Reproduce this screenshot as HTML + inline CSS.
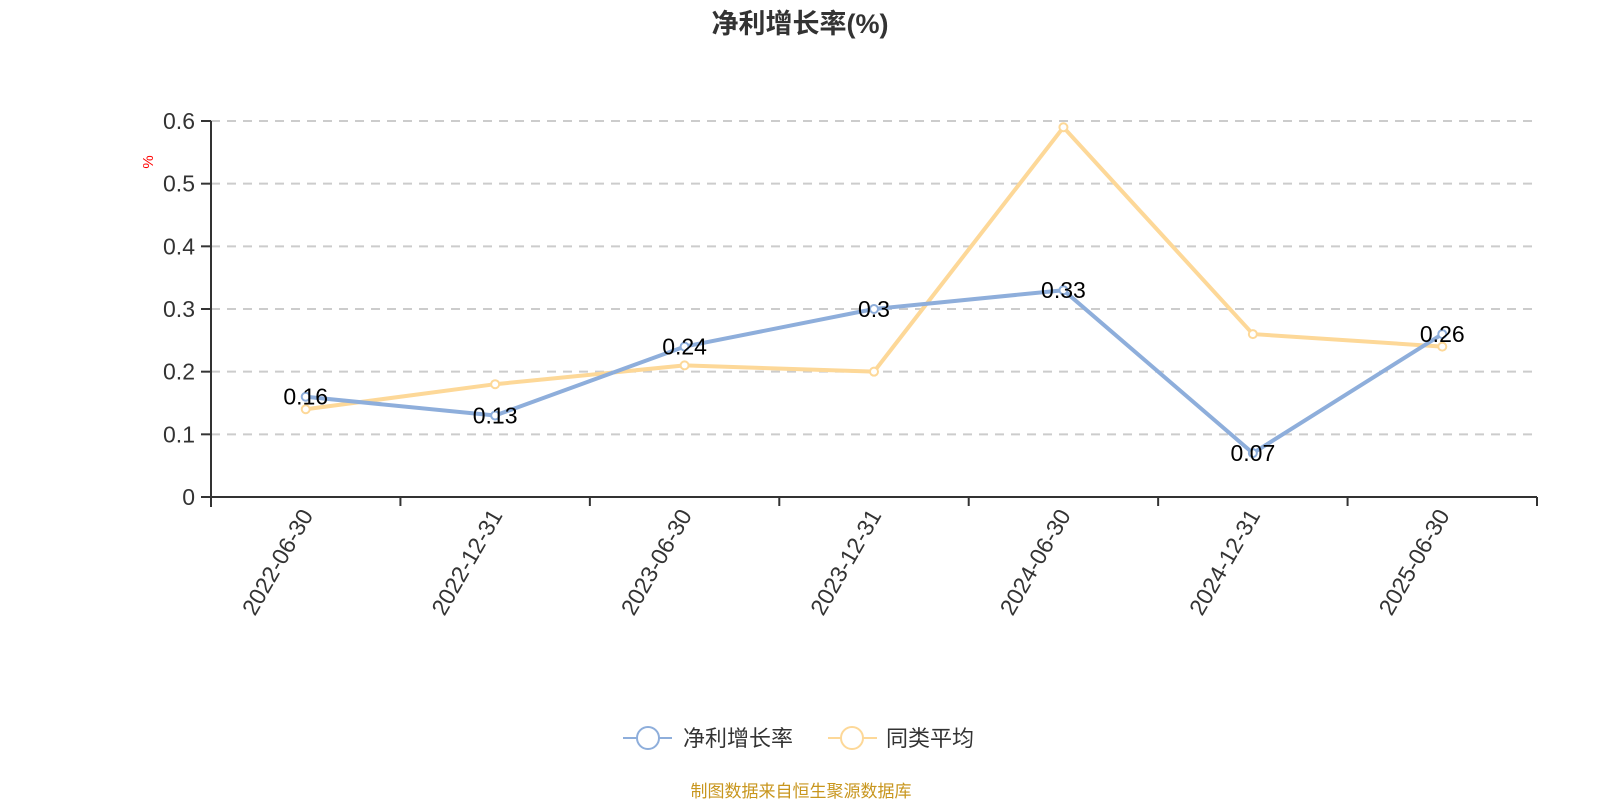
<!DOCTYPE html>
<html><head><meta charset="utf-8"><style>
body{margin:0;background:#fff;font-family:"Liberation Sans","Noto Sans CJK SC",sans-serif}
</style></head><body>
<svg width="1600" height="800" xmlns="http://www.w3.org/2000/svg" font-family="Liberation Sans, Noto Sans CJK SC, sans-serif">
<text x="800" y="33" text-anchor="middle" font-size="27" font-weight="bold" fill="#333">净利增长率(%)</text>
<text transform="translate(153,162) rotate(-90)" text-anchor="middle" font-size="15" fill="#f00">%</text>
<g id="grid"></g><g id="axes"></g><g id="series"></g>
<g>
<g><line x1="623" y1="738" x2="672" y2="738" stroke="#8eaedb" stroke-width="2"/><circle cx="648" cy="738" r="11" fill="#fff" stroke="#8eaedb" stroke-width="2"/><text x="683" y="746" font-size="22" fill="#333">净利增长率</text></g>
<g><line x1="828" y1="738" x2="877" y2="738" stroke="#fdd898" stroke-width="2"/><circle cx="852" cy="738" r="11" fill="#fff" stroke="#fdd898" stroke-width="2"/><text x="886" y="746" font-size="22" fill="#333">同类平均</text></g>
</g>
<text x="801" y="797" text-anchor="middle" font-size="17" fill="#c8961e">制图数据来自恒生聚源数据库</text>
</svg>
<script>
const categories=["2022-06-30","2022-12-31","2023-06-30","2023-12-31","2024-06-30","2024-12-31","2025-06-30"];
const netGrowth=[0.16,0.13,0.24,0.30,0.33,0.07,0.26];
const netLabels=["0.16","0.13","0.24","0.3","0.33","0.07","0.26"];
const peerAvg=[0.14,0.18,0.21,0.20,0.59,0.26,0.24];
const yTicks=[0,0.1,0.2,0.3,0.4,0.5,0.6];
const NS="http://www.w3.org/2000/svg";
const x0=211,x1=1537,yTop=121,yBot=497,ymax=0.6;
const bw=(x1-x0)/categories.length;
const xs=i=>x0+bw*(i+0.5);
const ys=v=>yBot-(v/ymax)*(yBot-yTop);
function mk(tag,attrs,parent){const e=document.createElementNS(NS,tag);for(const k in attrs)e.setAttribute(k,attrs[k]);parent.appendChild(e);return e;}
const grid=document.getElementById('grid'),axes=document.getElementById('axes'),series=document.getElementById('series');
yTicks.forEach(t=>{
 if(t>0){const g=mk('line',{x1:x0,x2:x1,y1:ys(t),y2:ys(t),stroke:'#ccc','stroke-width':2,'stroke-dasharray':'9,7'},grid);
 
 }
 const tk=mk('line',{x1:x0-10,x2:x0,y1:ys(t),y2:ys(t),stroke:'#333','stroke-width':2},axes);
 
 
 const lb=mk('text',{x:x0-16,y:ys(t)+8,'text-anchor':'end','font-size':23,fill:'#333'},axes);lb.textContent=t===0?'0':t.toFixed(1);
 
 
});
const ya=mk('line',{x1:x0,x2:x0,y1:yTop,y2:yBot+10,stroke:'#333','stroke-width':2},axes);


const xa=mk('line',{x1:x0,x2:x1,y1:yBot,y2:yBot,stroke:'#333','stroke-width':2},axes);


for(let i=0;i<=categories.length;i++){const t=mk('line',{x1:x0+bw*i,x2:x0+bw*i,y1:yBot,y2:yBot+9,stroke:'#333','stroke-width':2},axes);
 
 }
categories.forEach((c,i)=>{const t=mk('text',{transform:`translate(${xs(i)+8},${yBot+18}) rotate(-60)`,'text-anchor':'end','font-size':23,fill:'#333'},axes);t.textContent=c;
 
 });
function drawLine(vals,color,name){
 const p=mk('polyline',{points:vals.map((v,i)=>xs(i)+','+ys(v)).join(' '),fill:'none',stroke:color,'stroke-width':4,'stroke-linejoin':'round'},series);
 
 
 vals.forEach((v,i)=>{const c=mk('circle',{cx:xs(i),cy:ys(v),r:4,fill:'#fff',stroke:color,'stroke-width':2},series);
 
 });
}
drawLine(peerAvg,'#fdd898','peer-average');
drawLine(netGrowth,'#8eaedb','net-growth');
netGrowth.forEach((v,i)=>{
 const t=mk('text',{x:xs(i),y:ys(v)+8,'text-anchor':'middle','font-size':23,fill:'#000'},series);t.textContent=netLabels[i];
 
 
});
</script>
</body></html>
